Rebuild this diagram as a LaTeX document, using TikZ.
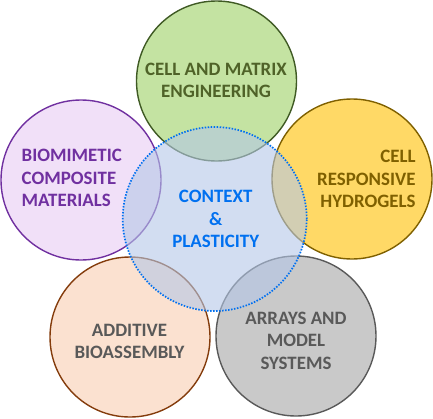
\documentclass[tikz,border=0pt]{standalone}
\usepackage{fontspec}
\setmainfont{Carlito}
\begin{document}
\begin{tikzpicture}[x=1pt,y=1pt,
  petal/.style={circle,minimum size=160pt,inner sep=0pt,line width=1.4pt},
  lbl/.style={font=\fontsize{18.9}{22.5}\selectfont\bfseries,inner sep=0pt},
]
\definecolor{gfill}{HTML}{C4E3A2}\definecolor{gline}{HTML}{3F5A24}\definecolor{gtext}{HTML}{4F6228}
\definecolor{pfill}{HTML}{F1E0F8}\definecolor{pline}{HTML}{7030A0}
\definecolor{yfill}{HTML}{FFD966}\definecolor{yline}{HTML}{7F6000}
\definecolor{ofill}{HTML}{FBE1D0}\definecolor{oline}{HTML}{843C0C}
\definecolor{kfill}{HTML}{C9C9C9}\definecolor{kline}{HTML}{595959}
\definecolor{cfill}{HTML}{B4C7E7}\definecolor{cline}{HTML}{0070F0}
\useasboundingbox (0,0) rectangle (433,-418);
\node[petal,fill=gfill,draw=gline] (green) at (216.5,-81) {};
\node[petal,fill=pfill,draw=pline] (purple) at (81,-180) {};
\node[petal,fill=yfill,draw=yline] (yellow) at (352,-179) {};
\node[petal,fill=ofill,draw=oline] (orange) at (130,-337) {};
\node[petal,fill=kfill,draw=kline] (grey) at (296,-336) {};
\node[circle,minimum size=184pt,inner sep=0pt,fill=cfill,fill opacity=0.6,draw=cline,line width=1.7pt,dash pattern=on 1.5pt off 1.5pt] (center) at (214.7,-219) {};
% labels
\node[lbl,text=gtext,anchor=base] (g1) at (216,-75) {CELL AND MATRIX};
\node[lbl,text=gtext,anchor=base] (g2) at (216,-97) {ENGINEERING};
\node[lbl,text=pline,anchor=base west] (p1) at (21.5,-161.5) {BIOMIMETIC};
\node[lbl,text=pline,anchor=base west] (p2) at (21.5,-184) {COMPOSITE};
\node[lbl,text=pline,anchor=base west] (p3) at (21.5,-206.5) {MATERIALS};
\node[lbl,text=yline,anchor=base east] (y1) at (415.7,-162.5) {CELL};
\node[lbl,text=yline,anchor=base east] (y2) at (415.7,-185) {RESPONSIVE};
\node[lbl,text=yline,anchor=base east] (y3) at (415.7,-207.5) {HYDROGELS};
\node[lbl,text=cline,anchor=base] (c1) at (215.7,-202.5) {CONTEXT};
\node[lbl,text=cline,anchor=base] (c2) at (215.7,-225) {\&};
\node[lbl,text=cline,anchor=base] (c3) at (215.7,-247.5) {PLASTICITY};
\node[lbl,text=kline,anchor=base] (o1) at (129.5,-336) {ADDITIVE};
\node[lbl,text=kline,anchor=base] (o2) at (129.5,-358.5) {BIOASSEMBLY};
\node[lbl,text=kline,anchor=base] (k1) at (296,-324) {ARRAYS AND};
\node[lbl,text=kline,anchor=base] (k2) at (296,-346.5) {MODEL};
\node[lbl,text=kline,anchor=base] (k3) at (296,-369) {SYSTEMS};
\end{tikzpicture}
\end{document}
